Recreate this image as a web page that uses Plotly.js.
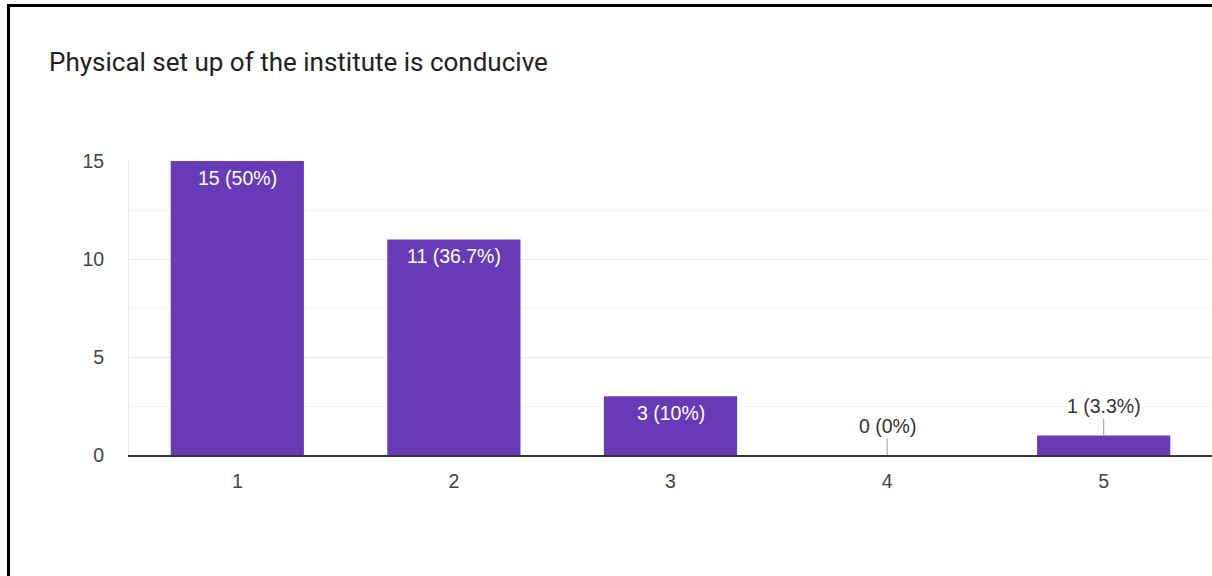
<!DOCTYPE html>
<html>
<head>
<meta charset="utf-8">
<script src="https://cdn.plot.ly/plotly-3.0.1.min.js"></script>
<style>
  html, body { margin: 0; padding: 0; background: #fff; }
  #wrap { position: relative; width: 1212px; height: 576px; overflow: hidden; }
  #chart { position: absolute; left: 0; top: 0; width: 1212px; height: 576px; }
  #frame { position: absolute; left: 7px; top: 4px; width: 1300px; height: 700px;
           border-left: 3px solid #000; border-top: 3px solid #000; pointer-events: none; }
</style>
</head>
<body>
<div id="wrap">
  <div id="chart"></div>
  <div id="frame"></div>
</div>
<script>
const titleText = "Physical set up of the institute is conducive";
const categories = [1, 2, 3, 4, 5];
const counts = [15, 11, 3, 0, 1];
const percentLabels = ["50%", "36.7%", "10%", "0%", "3.3%"];
const yTicks = [0, 5, 10, 15];

const barColor = "#673ab7";
const labelFont = "Liberation Sans, Arial, sans-serif";
const labels = counts.map((c, i) => c + " (" + percentLabels[i] + ")");

const annotations = categories.map((cat, i) => {
  const inside = counts[i] >= 3;
  if (inside) {
    return {
      x: cat, y: counts[i], xref: "x", yref: "y",
      text: labels[i], showarrow: false,
      yanchor: "top", yshift: -4,
      font: { family: labelFont, size: 19.5, color: "#ffffff" }
    };
  }
  return {
    x: cat, y: counts[i], xref: "x", yref: "y",
    text: labels[i], showarrow: true,
    arrowhead: 0, arrowwidth: 1, arrowcolor: "#999999",
    ax: 0, ay: -29, standoff: 0,
    font: { family: labelFont, size: 19.5, color: "#333333" }
  };
});

const trace = {
  type: "bar",
  x: categories,
  y: counts,
  width: 0.615,
  marker: { color: barColor, line: { width: 0 } },
  hoverinfo: "none"
};

const layout = {
  width: 1212, height: 576,
  margin: { l: 129, r: 0, t: 161, b: 121, pad: 0 },
  paper_bgcolor: "#ffffff", plot_bgcolor: "#ffffff",
  font: { family: labelFont, size: 19.5, color: "#444444" },
  showlegend: false,
  title: {
    text: titleText,
    x: 49 / 1212, xanchor: "left", xref: "container",
    y: 1 - 62 / 576, yanchor: "middle", yref: "container",
    font: { family: "Roboto, sans-serif", size: 26, color: "#212121" }
  },
  xaxis: {
    type: "linear",
    range: [0.5, 5.5],
    tickvals: categories, ticktext: categories.map(String),
    showgrid: false, zeroline: false,
    showline: true, linecolor: "#333333", linewidth: 1.5,
    ticks: "", ticklabelstandoff: 8,
    tickfont: { family: labelFont, size: 19.5, color: "#444444" },
    fixedrange: true
  },
  yaxis: {
    range: [0, 15],
    tickvals: yTicks, ticktext: yTicks.map(String),
    showgrid: true, gridcolor: "#ebebeb", gridwidth: 1,
    minor: { dtick: 2.5, tick0: 0, showgrid: true, gridcolor: "#f4f4f4", gridwidth: 1, ticks: "" },
    zeroline: false,
    showline: true, linecolor: "#ececec", linewidth: 1,
    ticks: "", ticklabelstandoff: 20,
    tickfont: { family: labelFont, size: 19.5, color: "#444444" },
    fixedrange: true
  },
  annotations: annotations
};

Plotly.newPlot("chart", [trace], layout, { displayModeBar: false, staticPlot: true });
</script>
</body>
</html>
